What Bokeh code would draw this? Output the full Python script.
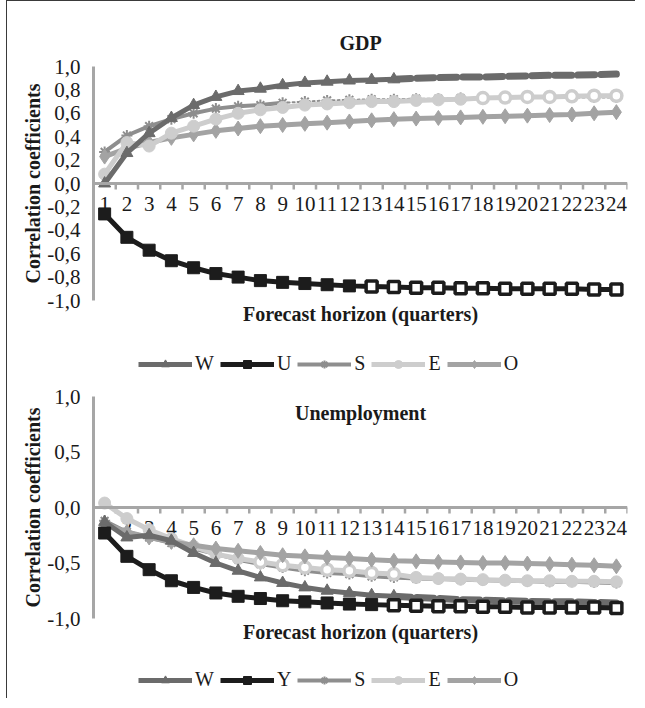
from bokeh.plotting import figure
from bokeh.models import Span, Label, Legend, LegendItem, CustomJSTickFormatter, FixedTicker
from bokeh.layouts import column
from bokeh.embed import file_html
from bokeh.resources import INLINE
from bokeh.core.properties import value

# ---------------- data ----------------
quarters = list(range(1, 25))
quarter_labels = [str(q) for q in quarters]

gdp_W = [0.00, 0.26, 0.43, 0.56, 0.67, 0.74, 0.79, 0.81, 0.84, 0.86, 0.87, 0.88,
         0.885, 0.89, 0.90, 0.905, 0.91, 0.91, 0.915, 0.92, 0.925, 0.925, 0.93, 0.935]
gdp_U = [-0.26, -0.46, -0.57, -0.66, -0.72, -0.77, -0.80, -0.83, -0.845, -0.855, -0.865, -0.875,
         -0.88, -0.885, -0.89, -0.89, -0.895, -0.895, -0.90, -0.90, -0.90, -0.90, -0.905, -0.905]
gdp_S = [0.27, 0.41, 0.49, 0.55, 0.60, 0.64, 0.66, 0.67, 0.69, 0.70, 0.71, 0.715,
         0.72, 0.72, 0.725, 0.725, 0.73, 0.73, 0.73, 0.73, 0.735, 0.735, 0.735, 0.735]
gdp_E = [0.08, 0.35, 0.32, 0.43, 0.49, 0.55, 0.60, 0.63, 0.65, 0.67, 0.68, 0.69,
         0.70, 0.70, 0.71, 0.715, 0.72, 0.73, 0.735, 0.74, 0.74, 0.745, 0.75, 0.75]
gdp_O = [0.23, 0.30, 0.35, 0.39, 0.42, 0.45, 0.47, 0.49, 0.50, 0.51, 0.52, 0.53,
         0.54, 0.55, 0.555, 0.56, 0.565, 0.57, 0.575, 0.58, 0.585, 0.59, 0.60, 0.61]

un_W = [-0.13, -0.27, -0.25, -0.30, -0.41, -0.50, -0.57, -0.63, -0.68, -0.72, -0.75, -0.77,
        -0.79, -0.80, -0.81, -0.82, -0.83, -0.835, -0.84, -0.845, -0.85, -0.85, -0.855, -0.86]
un_Y = [-0.23, -0.44, -0.56, -0.66, -0.72, -0.77, -0.80, -0.82, -0.84, -0.85, -0.86, -0.87,
        -0.875, -0.88, -0.885, -0.89, -0.89, -0.895, -0.895, -0.90, -0.90, -0.90, -0.90, -0.905]
un_S = [-0.12, -0.22, -0.27, -0.32, -0.37, -0.42, -0.47, -0.51, -0.54, -0.57, -0.59, -0.60,
        -0.62, -0.63, -0.64, -0.645, -0.65, -0.655, -0.66, -0.665, -0.67, -0.67, -0.675, -0.68]
un_E = [0.04, -0.10, -0.20, -0.28, -0.35, -0.42, -0.46, -0.49, -0.52, -0.54, -0.56, -0.57,
        -0.59, -0.60, -0.63, -0.64, -0.645, -0.65, -0.655, -0.66, -0.66, -0.665, -0.665, -0.67]
un_O = [-0.15, -0.22, -0.27, -0.31, -0.34, -0.37, -0.39, -0.41, -0.43, -0.44, -0.45, -0.46,
        -0.47, -0.48, -0.485, -0.49, -0.495, -0.50, -0.50, -0.505, -0.51, -0.515, -0.52, -0.53]

gdp_ticks = [-1.0, -0.8, -0.6, -0.4, -0.2, 0.0, 0.2, 0.4, 0.6, 0.8, 1.0]
un_ticks = [-1.0, -0.5, 0.0, 0.5, 1.0]

# ---------------- style ----------------
FONT = "Liberation Serif"
FS = "20px"
FS_TICK = "21px"
AXIS_GREY = "#a6a6a6"
TEXT = "#1a1a1a"
C_W, C_U, C_S, C_E, C_O = "#6b6b6b", "#1c1c1c", "#8e8e8e", "#cdcdcd", "#a3a3a3"
BORDER_L, BORDER_R = 86, 8

# per series: colour, marker, marker size, line width, marker line width
STY = {
    "W": (C_W, "triangle", 12, 5, 1),
    "U": (C_U, "square", 12, 5, 1),
    "S": (C_S, "asterisk", 11, 4, 2),
    "E": (C_E, "circle", 12, 5, 1),
    "O": (C_O, "diamond", 15, 5, 1),
}


def base_fig(title, ticks, height, top, bottom):
    p = figure(width=628, height=height, x_range=(0.5, 24.5), y_range=(-1, 1),
               output_backend="svg", toolbar_location=None,
               min_border_left=BORDER_L, min_border_right=BORDER_R, min_border_top=top,
               min_border_bottom=bottom)
    p.outline_line_color = None
    p.xgrid.visible = False
    p.ygrid.visible = False
    p.background_fill_color = "white"
    p.border_fill_color = "white"
    if title:
        p.title.text = title
        p.title.align = "center"
        p.title.text_font = FONT
        p.title.text_font_size = FS
        p.title.text_font_style = "bold"
        p.title.text_color = TEXT
        p.title.standoff = 26
    ya = p.yaxis[0]
    ya.ticker = FixedTicker(ticks=ticks)
    ya.formatter = CustomJSTickFormatter(code="return tick.toFixed(1).replace('.', ',');")
    ya.axis_line_color = AXIS_GREY
    ya.axis_line_width = 3
    ya.major_tick_line_color = None
    ya.minor_tick_line_color = None
    ya.major_tick_in = 0
    ya.major_tick_out = 0
    ya.major_label_text_font = FONT
    ya.major_label_text_font_size = FS_TICK
    ya.major_label_text_color = TEXT
    ya.major_label_standoff = 13
    ya.axis_label = "Correlation coefficients"
    ya.axis_label_text_font = FONT
    ya.axis_label_text_font_size = FS
    ya.axis_label_text_font_style = "bold"
    ya.axis_label_text_color = TEXT
    ya.axis_label_standoff = 0
    xa = p.xaxis[0]
    xa.ticker = FixedTicker(ticks=[])
    xa.axis_line_color = None
    xa.major_tick_line_color = None
    xa.minor_tick_line_color = None
    xa.major_tick_out = 0
    xa.major_label_standoff = 0
    xa.major_label_text_font_size = "0px"
    xa.axis_label = "Forecast horizon (quarters)"
    xa.axis_label_text_font = FONT
    xa.axis_label_text_font_size = FS
    xa.axis_label_text_font_style = "bold"
    xa.axis_label_text_color = TEXT
    xa.axis_label_standoff = 2
    # horizontal axis drawn at zero, with its ticks and the quarter labels
    p.add_layout(Span(location=0, dimension="width", line_color=AXIS_GREY, line_width=3))
    frame_h = height - top - bottom
    tick_len = 6.0 / frame_h * 2.0
    edges = [q - 0.5 for q in quarters] + [quarters[-1] + 0.5]
    p.segment(x0=edges, y0=[0] * len(edges), x1=edges, y1=[-tick_len] * len(edges),
              line_color=AXIS_GREY, line_width=2.5)
    p.text(x=quarters, y=[0] * len(quarters), text=quarter_labels, text_align="center",
           text_baseline="top", y_offset=13, text_font=value(FONT), text_font_size=FS_TICK,
           text_color=TEXT)
    return p


def series(p, key, ys, solid_until=None, dash="17 6", dash_width=None,
           markers_in_dash=False, hollow_from=None, hollow_to=None):
    color, marker, msize, lw, mline = STY[key]
    n = len(ys)
    end = solid_until if solid_until else n
    p.line(quarters[:end], ys[:end], line_color=color, line_width=lw, line_join="round")
    if solid_until:
        p.line(quarters[end - 1:], ys[end - 1:], line_color=color,
               line_width=dash_width or lw, line_dash=dash, line_cap="round")
    mend = n if (markers_in_dash or not solid_until) else end
    idx_f = [i for i in range(mend)
             if not (hollow_from and i + 1 >= hollow_from and (hollow_to is None or i + 1 <= hollow_to))]
    idx_h = [i for i in range(mend) if i not in idx_f]
    kw = dict(marker=marker, size=msize, line_color=color, fill_color=color, line_width=mline)
    p.scatter([quarters[i] for i in idx_f], [ys[i] for i in idx_f], **kw)
    if idx_h:
        kw2 = dict(kw)
        kw2.update(fill_color="white", line_width=3.5, size=msize - 1)
        p.scatter([quarters[i] for i in idx_h], [ys[i] for i in idx_h], **kw2)


def legend_fig(labels, keys, series_list, height, loc):
    # a strip that only carries the legend; its proxy renderers sit outside its range
    q = figure(width=628, height=height, x_range=(-3, -2), y_range=(-1, 1),
               output_backend="svg", toolbar_location=None,
               x_axis_location=None, y_axis_location=None,
               min_border_left=BORDER_L, min_border_right=BORDER_R,
               min_border_top=0, min_border_bottom=0)
    q.outline_line_color = None
    q.xgrid.visible = False
    q.ygrid.visible = False
    items = []
    for lab, key, ys in zip(labels, keys, series_list):
        color, marker, msize, lw, mline = STY[key]
        r1 = q.line(x=quarters[:1], y=ys[:1], line_color=color, line_width=lw)
        r2 = q.scatter(x=quarters[:1], y=ys[:1], marker=marker, size=msize, line_color=color,
                       fill_color=color, line_width=mline)
        items.append(LegendItem(label=lab, renderers=[r1, r2]))
    leg = Legend(items=items, orientation="horizontal", location=loc,
                 label_text_font=FONT, label_text_font_size=FS, label_text_color=TEXT,
                 glyph_width=54, glyph_height=20, label_width=0, label_height=20,
                 label_standoff=3, spacing=6, padding=0, margin=0,
                 border_line_color=None, background_fill_alpha=0)
    q.add_layout(leg)
    return q


# ---------------- GDP ----------------
p1 = base_fig("GDP", gdp_ticks, 329, 65, 30)
series(p1, "S", gdp_S, solid_until=9, dash="2 3", dash_width=2, markers_in_dash=True)
series(p1, "O", gdp_O)
series(p1, "E", gdp_E, hollow_from=18)
series(p1, "W", gdp_W, solid_until=14, dash_width=7)
series(p1, "U", gdp_U, hollow_from=13)
l1 = legend_fig(["W", "U", "S", "E", "O"], ["W", "U", "S", "E", "O"],
                [gdp_W, gdp_U, gdp_S, gdp_E, gdp_O], 53, (45, 8))

# ---------------- Unemployment ----------------
p2 = base_fig(None, un_ticks, 265, 13, 30)
p2.add_layout(Label(x=12.5, y=0.85, text="Unemployment", text_align="center",
                    text_baseline="middle", text_font=FONT, text_font_size=FS,
                    text_font_style="bold", text_color=TEXT))
series(p2, "S", un_S)
series(p2, "E", un_E, hollow_from=8, hollow_to=14)
series(p2, "O", un_O)
series(p2, "W", un_W, solid_until=14, dash_width=7)
series(p2, "U", un_Y, hollow_from=14)
l2 = legend_fig(["W", "Y", "S", "E", "O"], ["W", "U", "S", "E", "O"],
                [un_W, un_Y, un_S, un_E, un_O], 50, (45, 7))

layout = column(p1, l1, p2, l2, spacing=0,
                styles={"margin-left": "6px",
                        "border-left": "1px solid #3a3a3a", "border-top": "1px solid #3a3a3a"})

open("out.html", "w").write(file_html(layout, INLINE))
